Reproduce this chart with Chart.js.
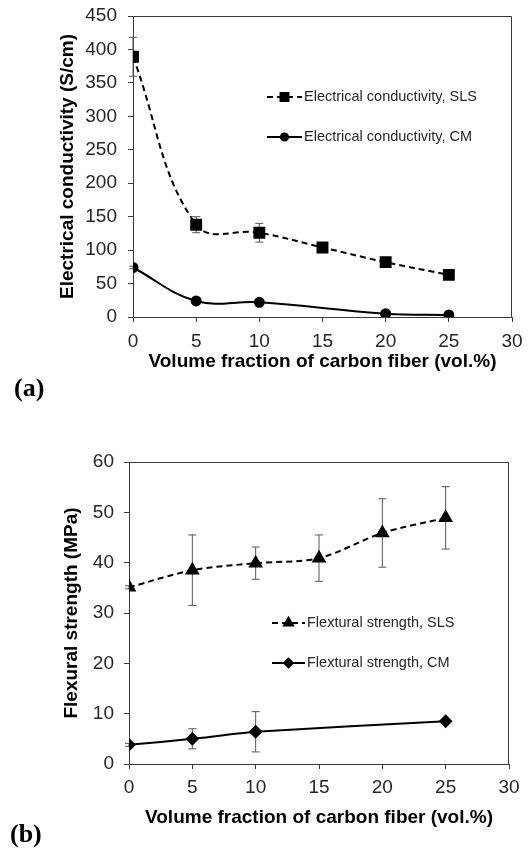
<!DOCTYPE html>
<html>
<head>
<meta charset="utf-8">
<script src="https://cdn.jsdelivr.net/npm/chart.js"></script>
<style>
  body { margin: 0; background: #fff; width: 528px; height: 852px; position: relative; overflow: hidden; }
  canvas { position: absolute; left: 0; }
  .tag { position: absolute; font-family: "Liberation Serif", "DejaVu Serif", serif; font-weight: bold; font-size: 26px; line-height: 1; color: #000; }
</style>
</head>
<body>
<canvas id="condChart" width="528" height="400" style="top:0"></canvas>
<canvas id="flexChart" width="528" height="412" style="top:440px"></canvas>
<div class="tag" style="left:14px; top:375px">(a)</div>
<div class="tag" style="left:10px; top:821px">(b)</div>
<script>
// (a) electrical conductivity, S/cm
var condSlsX = [0, 5, 10, 15, 20, 25];
var condSlsY = [389, 138, 126, 104, 82, 63];
var condSlsErr = [29, 12, 14, 5, 3, 2];
var condCmX = [0, 5, 10, 20, 25];
var condCmY = [74, 24, 22, 5, 3];
var condCmErr = [2, 2, 2, 1, 1];

// (b) flexural strength, MPa
var flexSlsX = [0, 5, 10, 15, 20, 25];
var flexSlsY = [35.1, 38.5, 39.9, 40.9, 45.9, 48.9];
var flexSlsErr = [0.3, 7.0, 3.2, 4.6, 6.8, 6.2];
var flexCmX = [0, 5, 10, 25];
var flexCmY = [3.8, 5.0, 6.4, 8.5];
var flexCmErr = [0.3, 2.0, 4.0, 0.3];

var xTitle = "Volume fraction of carbon fiber (vol.%)";
var axisColor = "#3a3a3a";
var textColor = "#262626";

function pts(xs, ys) {
  return xs.map(function(x, i) { return {x: x, y: ys[i]}; });
}

// error bars, drawn under the lines/markers
var errorBars = {
  id: "errorBars",
  beforeDatasetsDraw: function(chart) {
    var ctx = chart.ctx, xs = chart.scales.x, ys = chart.scales.y;
    ctx.save();
    ctx.strokeStyle = "#555";
    ctx.lineWidth = 1;
    chart.data.datasets.forEach(function(ds) {
      if (!ds.errors) return;
      ds.data.forEach(function(p, i) {
        var e = ds.errors[i];
        var px = xs.getPixelForValue(p.x);
        var top = ys.getPixelForValue(p.y + e);
        var bot = ys.getPixelForValue(p.y - e);
        ctx.beginPath();
        ctx.moveTo(px, top); ctx.lineTo(px, bot);
        ctx.moveTo(px - 4, top); ctx.lineTo(px + 4, top);
        ctx.moveTo(px - 4, bot); ctx.lineTo(px + 4, bot);
        ctx.stroke();
      });
    });
    ctx.restore();
  }
};

// closes the plot box (top + right edges) and draws the in-plot legend
var boxAndLegend = {
  id: "boxAndLegend",
  afterDraw: function(chart, args, opts) {
    var ctx = chart.ctx, a = chart.chartArea;
    ctx.save();
    ctx.strokeStyle = axisColor;
    ctx.lineWidth = 1;
    ctx.beginPath();
    ctx.moveTo(a.left, a.top + 0.5);
    ctx.lineTo(a.right - 0.5, a.top + 0.5);
    ctx.lineTo(a.right - 0.5, a.bottom);
    ctx.stroke();

    ctx.font = "14.5px 'Liberation Sans', Arial, sans-serif";
    ctx.textBaseline = "middle";
    ctx.textAlign = "left";
    chart.data.datasets.forEach(function(ds, i) {
      var y = opts.y + i * opts.gap;
      ctx.strokeStyle = "#000";
      ctx.lineWidth = ds.borderWidth;
      ctx.setLineDash(ds.borderDash || []);
      ctx.beginPath();
      ctx.moveTo(opts.x, y);
      ctx.lineTo(opts.x + opts.len, y);
      ctx.stroke();
      ctx.setLineDash([]);
      ctx.fillStyle = "#000";
      Chart.helpers.drawPoint(ctx, {pointStyle: ds.pointStyle, radius: ds.pointRadius * 0.8, rotation: 0, borderWidth: 1}, opts.x + opts.len / 2, y);
      ctx.fillStyle = textColor;
      ctx.fillText(ds.label, opts.x + opts.len + 2, y);
    });
    ctx.restore();
  }
};

function makeOptions(yMax, yStep, yTitle, lay) {
  return {
    responsive: false,
    animation: false,
    layout: {padding: {top: lay.top, right: lay.right, left: 0, bottom: 0}},
    plugins: {
      legend: {display: false},
      tooltip: {enabled: false},
      boxAndLegend: lay.legend
    },
    scales: {
      x: {
        type: "linear", min: 0, max: 30,
        ticks: {stepSize: 5, color: textColor, padding: lay.xPad, font: {family: "'Liberation Sans', Arial, sans-serif", size: 19}},
        grid: {drawOnChartArea: false, tickLength: 5, color: axisColor},
        border: {color: axisColor},
        title: {display: true, text: xTitle, color: "#000", padding: {top: 0, bottom: lay.xTitlePad},
                font: {family: "'Liberation Sans', Arial, sans-serif", size: 19, weight: "bold"}},
        afterFit: function(s) { s.height = lay.xHeight; s.paddingLeft = 0; s.paddingRight = 0; }
      },
      y: {
        min: 0, max: yMax,
        ticks: {stepSize: yStep, color: textColor, padding: lay.yPad, font: {family: "'Liberation Sans', Arial, sans-serif", size: 19}},
        grid: {drawOnChartArea: false, tickLength: 5, color: axisColor},
        border: {color: axisColor},
        title: {display: true, text: yTitle, color: "#000", padding: {top: lay.yTitlePad, bottom: 0},
                font: {family: "'Liberation Sans', Arial, sans-serif", size: 19, weight: "bold"}},
        afterFit: function(s) { s.width = lay.yWidth; s.paddingTop = 0; s.paddingBottom = 0; }
      }
    }
  };
}

new Chart("condChart", {
  type: "line",
  data: {datasets: [{
    label: "Electrical conductivity, SLS",
    data: pts(condSlsX, condSlsY), errors: condSlsErr,
    borderColor: "#000", backgroundColor: "#000", borderWidth: 2, borderDash: [6, 4],
    pointStyle: "rect", pointRadius: 7, tension: 0.4
  }, {
    label: "Electrical conductivity, CM",
    data: pts(condCmX, condCmY), errors: condCmErr,
    borderColor: "#000", backgroundColor: "#000", borderWidth: 2,
    pointStyle: "circle", pointRadius: 4.5, tension: 0.4
  }]},
  options: makeOptions(450, 50, "Electrical conductivity (S/cm)", {
    top: 16, right: 16, xHeight: 83, yWidth: 133, xPad: 8, yPad: 11, xTitlePad: 26.6, yTitlePad: 56.6,
    legend: {x: 267, y: 97, gap: 40, len: 35}
  }),
  plugins: [errorBars, boxAndLegend]
});

new Chart("flexChart", {
  type: "line",
  data: {datasets: [{
    label: "Flextural strength, SLS",
    data: pts(flexSlsX, flexSlsY), errors: flexSlsErr,
    borderColor: "#000", backgroundColor: "#000", borderWidth: 2, borderDash: [6, 4],
    pointStyle: "triangle", pointRadius: 6.5, tension: 0.3
  }, {
    label: "Flextural strength, CM",
    data: pts(flexCmX, flexCmY), errors: flexCmErr,
    borderColor: "#000", backgroundColor: "#000", borderWidth: 2,
    pointStyle: "rectRot", pointRadius: 5.5, tension: 0.2
  }]},
  options: makeOptions(60, 10, "Flexural strength (MPa)", {
    top: 22, right: 19, xHeight: 88, yWidth: 129, xPad: 7, yPad: 10, xTitlePad: 23, yTitlePad: 60.6,
    legend: {x: 272, y: 183, gap: 40, len: 33}
  }),
  plugins: [errorBars, boxAndLegend]
});
</script>
</body>
</html>
